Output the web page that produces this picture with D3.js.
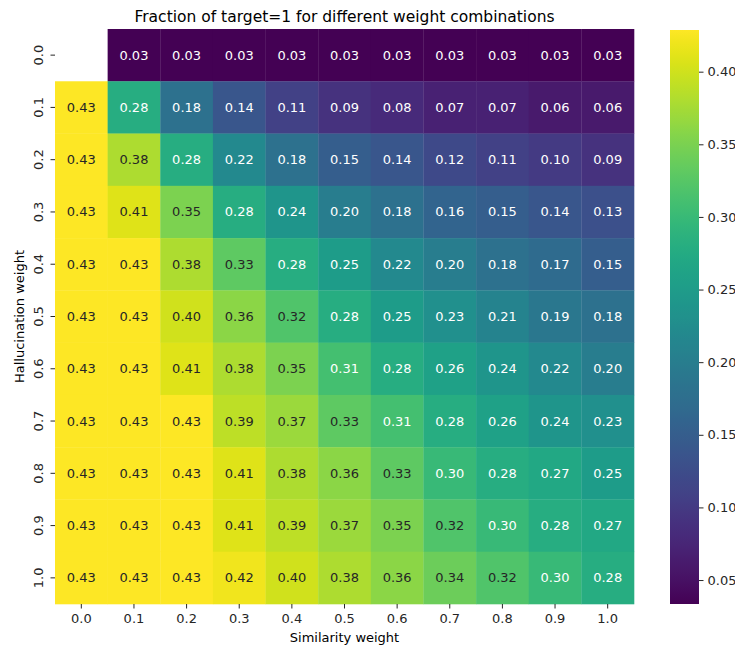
<!DOCTYPE html>
<html>
<head>
<meta charset="utf-8">
<script src="https://cdn.jsdelivr.net/npm/d3@7"></script>
<style>
  body { margin: 0; background: #fff; }
  svg { font-family: "DejaVu Sans", sans-serif; }
</style>
</head>
<body>
<svg id="chart" width="735" height="646"></svg>
<script>
// Similarity weights (columns) and hallucination weights (rows)
const similarityWeights = ["0.0","0.1","0.2","0.3","0.4","0.5","0.6","0.7","0.8","0.9","1.0"];
const hallucinationWeights = ["0.0","0.1","0.2","0.3","0.4","0.5","0.6","0.7","0.8","0.9","1.0"];

// Fraction of target=1, one array per hallucination weight (null = no value)
const row00 = [null, 0.03, 0.03, 0.03, 0.03, 0.03, 0.03, 0.03, 0.03, 0.03, 0.03];
const row01 = [0.43, 0.28, 0.18, 0.14, 0.11, 0.09, 0.08, 0.07, 0.07, 0.06, 0.06];
const row02 = [0.43, 0.38, 0.28, 0.22, 0.18, 0.15, 0.14, 0.12, 0.11, 0.10, 0.09];
const row03 = [0.43, 0.41, 0.35, 0.28, 0.24, 0.20, 0.18, 0.16, 0.15, 0.14, 0.13];
const row04 = [0.43, 0.43, 0.38, 0.33, 0.28, 0.25, 0.22, 0.20, 0.18, 0.17, 0.15];
const row05 = [0.43, 0.43, 0.40, 0.36, 0.32, 0.28, 0.25, 0.23, 0.21, 0.19, 0.18];
const row06 = [0.43, 0.43, 0.41, 0.38, 0.35, 0.31, 0.28, 0.26, 0.24, 0.22, 0.20];
const row07 = [0.43, 0.43, 0.43, 0.39, 0.37, 0.33, 0.31, 0.28, 0.26, 0.24, 0.23];
const row08 = [0.43, 0.43, 0.43, 0.41, 0.38, 0.36, 0.33, 0.30, 0.28, 0.27, 0.25];
const row09 = [0.43, 0.43, 0.43, 0.41, 0.39, 0.37, 0.35, 0.32, 0.30, 0.28, 0.27];
const row10 = [0.43, 0.43, 0.43, 0.42, 0.40, 0.38, 0.36, 0.34, 0.32, 0.30, 0.28];
const rows = [row00, row01, row02, row03, row04, row05, row06, row07, row08, row09, row10];

// Colour range of the colour bar and its ticks
const colorMin = 0.0335;
const colorMax = 0.4287;
const colorbarTicks = [0.05, 0.10, 0.15, 0.20, 0.25, 0.30, 0.35, 0.40];

const svg = d3.select("#chart");
const plot = { left: 55, top: 29, right: 634, bottom: 604 };

const x = d3.scaleBand().domain(similarityWeights).range([plot.left, plot.right]).padding(0);
const y = d3.scaleBand().domain(hallucinationWeights).range([plot.top, plot.bottom]).padding(0);
const color = d3.scaleSequential(d3.interpolateViridis).domain([colorMin, colorMax]).clamp(true);

const cells = [];
rows.forEach((r, i) => r.forEach((v, j) => {
  if (v !== null) cells.push({ row: hallucinationWeights[i], col: similarityWeights[j], value: v });
}));

function luminance(c) {
  const rgb = d3.rgb(c);
  const lin = [rgb.r, rgb.g, rgb.b].map(v => {
    v /= 255;
    return v <= 0.03928 ? v / 12.92 : Math.pow((v + 0.055) / 1.055, 2.4);
  });
  return 0.2126 * lin[0] + 0.7152 * lin[1] + 0.0722 * lin[2];
}

// Heatmap cells
svg.append("g").selectAll("rect").data(cells).join("rect")
  .attr("x", d => x(d.col))
  .attr("y", d => y(d.row))
  .attr("width", x.bandwidth() + 0.3)
  .attr("height", y.bandwidth() + 0.3)
  .attr("fill", d => color(d.value));

// Cell annotations
svg.append("g").selectAll("text").data(cells).join("text")
  .attr("x", d => x(d.col) + x.bandwidth() / 2)
  .attr("y", d => y(d.row) + y.bandwidth() / 2)
  .attr("text-anchor", "middle")
  .attr("dominant-baseline", "central")
  .attr("font-size", 13)
  .attr("fill", d => luminance(color(d.value)) > 0.408 ? "#262626" : "#ffffff")
  .text(d => d.value.toFixed(2));

// X axis
const xAxis = svg.append("g")
  .attr("transform", `translate(0,${plot.bottom})`)
  .call(d3.axisBottom(x).tickSize(4.5).tickPadding(5));
xAxis.select(".domain").remove();
xAxis.selectAll("line").attr("stroke", "#262626").attr("stroke-width", 1);
xAxis.selectAll("text").attr("font-size", 13).attr("fill", "#262626").attr("font-family", "DejaVu Sans");

// Y axis with rotated labels
const yAxis = svg.append("g")
  .attr("transform", `translate(${plot.left},0)`)
  .call(d3.axisLeft(y).tickSize(4.5).tickPadding(0));
yAxis.select(".domain").remove();
yAxis.selectAll("line").attr("stroke", "#262626").attr("stroke-width", 1);
yAxis.selectAll("text")
  .attr("font-size", 13).attr("fill", "#262626").attr("font-family", "DejaVu Sans")
  .attr("x", 0).attr("dy", null)
  .attr("text-anchor", "middle")
  .attr("dominant-baseline", "central")
  .attr("transform", "translate(-17,0) rotate(-90)");

// Title and axis labels
svg.append("text")
  .attr("x", (plot.left + plot.right) / 2).attr("y", 22)
  .attr("text-anchor", "middle").attr("font-size", 15.5).attr("fill", "#000")
  .text("Fraction of target=1 for different weight combinations");
svg.append("text")
  .attr("x", (plot.left + plot.right) / 2).attr("y", 642)
  .attr("text-anchor", "middle").attr("font-size", 13).attr("fill", "#000")
  .text("Similarity weight");
svg.append("text")
  .attr("transform", `translate(24,${(plot.top + plot.bottom) / 2}) rotate(-90)`)
  .attr("text-anchor", "middle").attr("font-size", 13).attr("fill", "#000")
  .text("Hallucination weight");

// Colour bar
const cb = { left: 670, width: 29, top: 30, bottom: 604 };
const cbScale = d3.scaleLinear().domain([colorMin, colorMax]).range([cb.bottom, cb.top]);
const defs = svg.append("defs");
const grad = defs.append("linearGradient").attr("id", "cbgrad")
  .attr("x1", 0).attr("y1", 1).attr("x2", 0).attr("y2", 0);
d3.range(0, 1.0001, 0.02).forEach(t => {
  grad.append("stop").attr("offset", t).attr("stop-color", d3.interpolateViridis(t));
});
svg.append("rect")
  .attr("x", cb.left).attr("y", cb.top)
  .attr("width", cb.width).attr("height", cb.bottom - cb.top)
  .attr("fill", "url(#cbgrad)");
const cbAxis = svg.append("g")
  .attr("transform", `translate(${cb.left + cb.width},0)`)
  .call(d3.axisRight(cbScale).tickValues(colorbarTicks).tickFormat(d3.format(".2f")).tickSize(4.5).tickPadding(4));
cbAxis.select(".domain").remove();
cbAxis.selectAll("line").attr("stroke", "#262626");
cbAxis.selectAll("text").attr("font-size", 13).attr("fill", "#262626").attr("font-family", "DejaVu Sans");
</script>
</body>
</html>
